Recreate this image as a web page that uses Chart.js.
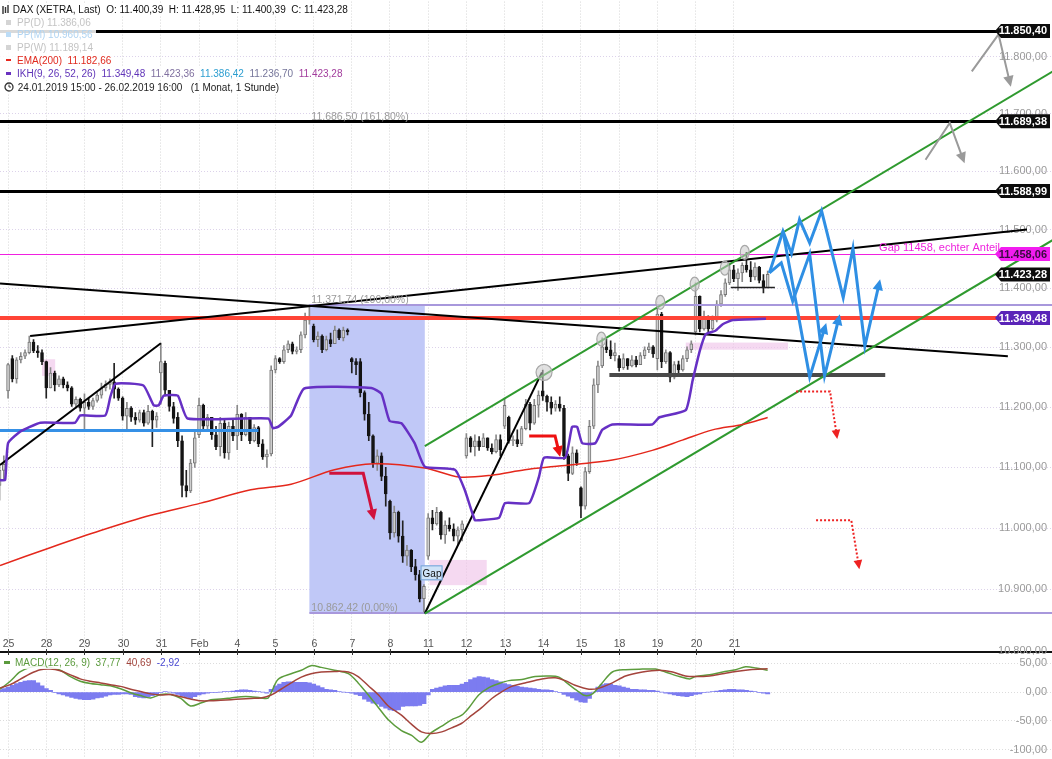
<!DOCTYPE html>
<html>
<head>
<meta charset="utf-8">
<script src="https://cdn.jsdelivr.net/npm/chart.js@4.4.1/dist/chart.umd.min.js"></script>
<style>
body { margin: 0; background: #fff; font-family: "Liberation Sans", Arial, sans-serif; }
#wrap { position: relative; width: 1052px; height: 759px; overflow: hidden; }
canvas { position: absolute; left: 0; }
.lg { position: absolute; left: 0; font-size: 10px; line-height: 13px; height: 13px; white-space: nowrap;
      background: rgba(255,255,255,0.85); padding: 0 3px 0 2px; }
.lg i { display: inline-block; width: 5px; height: 5px; margin: 0 6px 0 4px; vertical-align: 1px; }
.ml { position: absolute; left: 0; top: 656px; font-size: 10px; line-height: 13px; white-space: nowrap;
      background: rgba(255,255,255,0.85); padding: 0 3px 0 2px; }
</style>
</head>
<body>
<div id="wrap">
  <canvas id="main" width="1052" height="655" style="top:0"></canvas>
  <canvas id="macd" width="1052" height="104" style="top:655px"></canvas>

  <div class="lg" style="top:3px">
    <svg width="7" height="9" style="vertical-align:-1px;margin:0 1px 0 0"><path d="M1 1v8M3.5 2v6M6 0v8" stroke="#333" stroke-width="1.4"/></svg>
    <span style="color:#111">DAX (XETRA, Last)&nbsp; O: 11.400,39&nbsp; H: 11.428,95&nbsp; L: 11.400,39&nbsp; C: 11.423,28</span>
  </div>
  <div class="lg" style="top:16px;width:92px"><i style="background:#d4d4d4"></i><span style="color:#c4c4c4">PP(D) 11.386,06</span></div>
  <div class="lg" style="top:28px"><i style="background:#bcdcf6"></i><span style="color:#b0d4f2">PP(M) 10.960,56</span></div>
  <div class="lg" style="top:41px"><i style="background:#d4d4d4"></i><span style="color:#c4c4c4">PP(W) 11.189,14</span></div>
  <div class="lg" style="top:54px"><i style="background:#e8281e;height:2px;vertical-align:3px"></i><span style="color:#e02a1e">EMA(200)&nbsp; 11.182,66</span></div>
  <div class="lg" style="top:67px"><i style="background:#6a32c0;height:3px;vertical-align:2px"></i><span style="color:#6034b8">IKH(9, 26, 52, 26)&nbsp; 11.349,48</span>&nbsp;
    <span style="color:#7f6f9f">11.423,36</span>&nbsp; <span style="color:#2c9ed0">11.386,42</span>&nbsp;
    <span style="color:#75759a">11.236,70</span>&nbsp; <span style="color:#a23c9c">11.423,28</span></div>
  <div class="lg" style="top:81px">
    <svg width="10" height="10" style="vertical-align:-1px;margin:0 1px 0 2px"><circle cx="5" cy="5" r="4" fill="none" stroke="#333" stroke-width="1.3"/><path d="M5 2.5V5h2" stroke="#333" fill="none"/></svg>
    <span style="color:#222">24.01.2019 15:00 - 26.02.2019 16:00&nbsp;&nbsp; (1 Monat, 1 Stunde)</span></div>

  <div class="ml"><i style="display:inline-block;width:6px;height:3px;background:#5a9a3c;vertical-align:2px;margin:0 5px 0 2px"></i><span style="color:#5a9a3c">MACD(12, 26, 9)&nbsp; 37,77</span>&nbsp; <span style="color:#a0443c">40,69</span>&nbsp; <span style="color:#4848d0">-2,92</span></div>
</div>

<script>
// ---------- data ----------
const dayLabels = ["25", "28", "29", "30", "31", "Feb", "4", "5", "6", "7", "8", "11", "12", "13", "14", "15", "18", "19", "20", "21"];
const barsPerDay = 9;      // hourly bars per trading day
const firstBar = -2;       // 24.01. 16:00 -> bar -2, 25.01. 09:00 -> bar 0

// hourly candles [open, high, low, close]
const ohlc = [
  [11070,11105,11046,11095],[11095,11119,11080,11105],
  [11227,11273,11215,11271],[11281,11286,11242,11247],[11247,11283,11240,11279],[11279,11291,11274,11285],[11285,11296,11281,11291],[11291,11319,11289,11309],[11309,11313,11291,11294],[11294,11303,11283,11291],[11291,11296,11271,11276],
  [11276,11277,11215,11232],[11232,11266,11232,11257],[11257,11260,11227,11237],[11237,11252,11234,11247],[11247,11250,11232,11237],[11237,11242,11227,11232],[11232,11234,11201,11205],[11205,11217,11198,11213],[11213,11215,11193,11198],
  [11198,11222,11162,11208],[11208,11215,11196,11201],[11201,11215,11196,11211],[11211,11224,11208,11220],[11220,11240,11215,11232],[11232,11244,11227,11238],[11238,11247,11230,11242],[11242,11273,11215,11230],[11230,11232,11211,11215],
  [11215,11217,11178,11185],[11185,11208,11162,11198],[11198,11201,11176,11183],[11183,11191,11171,11178],[11178,11195,11175,11191],[11191,11195,11168,11173],[11173,11203,11171,11193],[11193,11195,11134,11178],[11178,11191,11166,11185],
  [11257,11307,11205,11276],[11273,11277,11220,11228],[11228,11228,11193,11201],[11201,11208,11173,11181],[11183,11191,11134,11144],[11144,11152,11051,11070],[11070,11095,11051,11061],[11061,11113,11058,11107],[11107,11162,11100,11149],
  [11154,11215,11149,11203],[11203,11205,11162,11168],[11168,11188,11162,11183],[11183,11183,11146,11154],[11154,11168,11129,11134],[11134,11183,11119,11173],[11173,11178,11115,11124],[11124,11175,11113,11168],[11168,11178,11144,11152],
  [11152,11203,11129,11188],[11188,11189,11144,11154],[11154,11191,11152,11183],[11183,11183,11139,11144],[11144,11171,11142,11166],[11166,11168,11134,11139],[11139,11146,11113,11117],[11117,11129,11100,11122],[11122,11269,11119,11262],
  [11262,11286,11257,11281],[11281,11283,11273,11276],[11276,11303,11273,11296],[11296,11311,11291,11306],[11306,11309,11289,11293],[11293,11301,11289,11296],[11296,11326,11291,11321],[11321,11358,11316,11346],[11346,11371.74,11339,11351],
  [11336,11339,11309,11313],[11313,11326,11301,11319],[11319,11321,11291,11296],[11296,11319,11294,11313],[11313,11324,11301,11306],[11306,11336,11306,11329],[11329,11331,11313,11316],[11316,11334,11311,11329],[11329,11331,11321,11326],
  [11281,11283,11257,11276],[11276,11281,11254,11271],[11276,11281,11217,11224],[11224,11227,11178,11188],[11188,11208,11144,11152],[11152,11154,11100,11107],[11107,11129,11095,11119],[11119,11124,11078,11085],[11085,11100,11036,11056],
  [11044,11046,10982,10992],[10992,11036,10985,11026],[11026,11028,10977,10987],[10987,11012,10944,10954],[10954,10972,10939,10964],[10964,10965,10929,10937],[10937,10949,10915,10924],[10924,10931,10880,10885],[10885,10908,10862.42,10905],
  [10954,11024,10949,11017],[11017,11029,10997,11007],[11007,11034,11005,11026],[11026,11028,10982,10989],[10989,11012,10975,11005],[11005,11017,10995,10999],[10999,11007,10979,10987],[10987,11002,10972,10997],[10997,11012,10979,11007],
  [11119,11156,11115,11149],[11149,11151,11125,11134],[11134,11154,11119,11144],[11144,11151,11128,11134],[11134,11156,11134,11149],[11149,11149,11128,11132],[11132,11139,11122,11126],[11126,11154,11124,11146],[11146,11154,11119,11129],
  [11168,11215,11164,11203],[11183,11185,11140,11144],[11144,11152,11136,11146],[11146,11162,11134,11139],[11139,11168,11136,11164],[11164,11213,11162,11205],[11205,11208,11162,11173],[11173,11213,11171,11203],[11203,11227,11183,11220],
  [11227,11262,11211,11218],[11218,11220,11193,11208],[11208,11217,11188,11198],[11198,11211,11193,11205],[11205,11217,11193,11198],[11198,11203,11113,11119],[11119,11122,11078,11090],[11090,11134,11088,11124],[11124,11129,11103,11107],
  [11066,11068,11017,11036],[11036,11100,11031,11093],[11093,11178,11090,11168],[11168,11247,11164,11237],[11237,11277,11224,11269],[11269,11316,11266,11301],[11301,11314,11291,11296],[11296,11311,11281,11286],[11286,11307,11277,11291],
  [11281,11286,11260,11266],[11266,11289,11263,11281],[11281,11281,11263,11269],[11269,11286,11267,11279],[11279,11285,11267,11271],[11271,11291,11271,11286],[11286,11301,11281,11296],[11296,11307,11291,11301],[11301,11303,11283,11289],
  [11281,11371,11262,11356],[11356,11359,11266,11276],[11276,11296,11273,11291],[11291,11293,11242,11250],[11250,11276,11247,11271],[11271,11277,11257,11262],[11262,11286,11260,11281],[11281,11301,11276,11296],[11296,11311,11291,11306],
  [11326,11409,11321,11386],[11386,11387,11326,11331],[11331,11361,11329,11351],[11351,11353,11326,11331],[11331,11353,11329,11346],[11346,11379,11343,11373],[11373,11396,11369,11389],[11389,11416,11386,11409],[11409,11441,11406,11431],
  [11431,11439,11411,11416],[11416,11433,11396,11426],[11426,11443,11411,11439],[11439,11461,11427,11431],[11431,11445,11411,11419],[11419,11443,11414,11436],[11436,11437,11409,11413],[11413,11423,11392,11400.39],[11400.39,11428.95,11400.39,11423.28]
];

// IKH line and EMA(200): [bar, price]
const ikhLine = [[-1.9,11079],[-0.7,11079],[0,11140],[2.8,11159],[4.5,11165],[7.6,11174],[15.8,11174],[17.0,11186],[22.9,11186],[24.1,11217],[25.3,11239],
  [31.9,11236],[34.3,11203],[35.5,11203],[36.7,11219],[40.0,11219],[42.3,11181],[61.3,11181],[62.4,11165],[63.6,11167],[66.7,11186],[69.8,11231],
  [85.6,11232],[88.0,11222],[89.9,11177],[92.7,11173],[95.8,11140],[98.2,11101],[105.3,11096],[107.6,11063],[110.0,11013],[110.9,11013],[115.7,11017],
  [117.1,11041],[122.8,11041],[125.1,11084],[126.3,11116],[131.3,11116],[132.9,11167],[134.1,11167],[135.3,11140],[138.4,11140],[140.0,11162],[142.4,11171],
  [151.8,11171],[153.5,11183],[159.7,11195],[161.3,11244],[163.0,11294],[164.4,11322],[166.7,11328],[168.4,11339],[170.8,11346],[178.6,11348]];
const emaLine = [[-1.9,10939],[9.9,10968],[21.8,10996],[33.6,11021],[45.4,11041],[57.2,11063],[66.7,11072],[76.9,11096],[86.3,11106],[98.2,11099],
  [106.2,11084],[114.0,11087],[121.8,11096],[129.8,11102],[142.4,11112],[151.8,11128],[158.9,11145],[166.0,11162],[173.1,11171],[179.0,11182.66]];

// MACD(12,26,9)
const macdHist = [
  4,6,
  9,12,15,17,19,20,20,16,11,  6,3,-1,-3,-5,-7,-9,-11,-12,  -13,-13,-12,-10,-9,-7,-5,-4,-4,
  -3,-3,-4,-8,-9,-10,-8,-6,-3,  -1,1,0,-2,-4,-7,-9,-11,-8,  -5,-3,-2,-1,-1,0,1,1,2,
  3,4,4,3,2,1,0,-2,5,  11,14,17,18,18,17,17,17,16,  14,11,8,5,4,3,1,0,-1,
  -2,-4,-6,-12,-16,-19,-21,-25,-28,  -31,-32,-31,-25,-24,-24,-24,-23,-20,  -5,5,7,9,11,12,12,12,14,
  17,22,25,27,26,25,22,20,18,  15,13,12,10,9,8,7,6,5,  4,4,3,1,-1,-4,-7,-10,-14,
  -17,-18,-11,0,9,13,15,14,12,  11,9,7,5,5,4,4,3,3,  2,0,-2,-3,-5,-6,-7,-8,-6,
  -4,-3,-1,0,1,2,3,4,5,  5,4,4,3,2,1,-1,-2,-2.92
];
const macdLine = [[-1.9,5],[0.5,19],[2.8,35],[5.2,43],[7.6,46],[9.9,43],[12.3,38],[14.7,27],[17.0,19],[19.4,15],[21.8,13],[24.1,11],[26.5,6],[28.9,-1],
  [31.2,-6],[33.6,-10],[36.0,-4],[38.3,-4],[40.7,-11],[43.0,-24],[45.4,-19],[47.8,-13],[50.1,-12],[52.5,-10],[54.9,-8],[57.2,-8],[59.6,-10],[61.3,-10],
  [63.6,22],[66.7,32],[69.1,38],[71.4,46],[73.8,43],[76.9,38],[80.2,32],[82.5,16],[84.9,-5],[87.3,-27],[89.6,-48],[92.7,-67],[95.1,-75],[97.4,-87],
  [99.8,-70],[102.2,-59],[104.5,-48],[106.9,-40],[108.6,-27],[110.9,-5],[113.3,8],[115.7,15],[118.0,20],[121.1,22],[124.2,27],[127.5,28],[129.8,26],
  [132.2,13],[134.6,0],[136.0,-6],[137.7,-3],[140.0,16],[142.4,35],[145.5,39],[149.5,40],[152.6,40],[154.9,35],[158.2,27],[160.6,23],[162.0,27],
  [165.3,30],[168.4,35],[171.5,39],[173.8,44],[176.2,42],[179.0,37.77]];
const signalLine = [[-1.9,7],[0.5,13],[2.8,22],[5.2,32],[7.6,39],[9.9,40],[12.3,37],[14.7,30],[17.0,23],[19.4,19],[21.8,16],[24.1,13],[26.5,10],[28.9,5],
  [31.2,1],[33.6,-3],[36.0,-5],[38.3,-4],[40.7,-8],[43.0,-12],[45.4,-15],[47.8,-15],[50.1,-14],[52.5,-13],[54.9,-12],[57.2,-11],[59.6,-10],[62.0,-5],
  [64.3,5],[66.7,16],[69.1,26],[71.4,32],[73.8,35],[76.9,36],[80.2,35],[82.5,27],[84.9,11],[87.3,-5],[89.6,-24],[92.7,-40],[95.1,-56],[97.4,-69],
  [99.8,-72],[102.2,-69],[104.5,-62],[106.9,-54],[109.3,-40],[111.6,-27],[114.0,-11],[116.4,1],[118.7,10],[121.8,16],[125.8,23],[128.9,25],[131.3,20],
  [133.6,12],[136.9,5],[139.3,7],[142.4,16],[145.5,28],[149.5,35],[153.5,38],[156.6,35],[159.6,28],[162.0,27],[165.3,28],[168.4,32],[171.5,36],
  [174.8,39],[179.0,40.69]];

// axis ticks
const priceTicks = [10800, 10900, 11000, 11100, 11200, 11300, 11400, 11500, 11600, 11700, 11800];
const macdTicks = [-100, -50, 0, 50];

// drawn levels (prices where the lines sit) and the values their tags show
const blackLevels = [11845, 11687, 11566];
const blackLevelTags = ["11.850,40", "11.689,38", "11.588,99"];
const lastClose = 11423.28;
const gapLevel = 11458.06;
const redLevel = 11349.48;
const fibHigh = 11371.74, fibLow = 10862.42, fibExt = 11686.50;
const fibStart = 71, fibEnd = 98.2;              // bars
const blueLevel = [11162, -2, 59];               // [price, fromBar, toBar]
const supportLevel = [11253, 141.7, 206.7];
const shortLevel = [11402, 170.3, 180.7];

// trend lines [bar1, price1, bar2, price2]
const blackTrends = [[5.2, 11319, 240.1, 11500], [-1.9, 11408, 235.6, 11285], [-1.9, 11104, 36, 11307], [98.2, 10861, 125.8, 11258]];
const greenTrends = [[98.2, 11135, 246.9, 11777], [98.2, 10861, 246.9, 11485]];

// shaded boxes [bar1, bar2, priceTop, priceBottom]
const pinkBoxes = [[8.0, 11.1, 11280, 11252], [99.3, 112.8, 10948, 10907], [159.7, 183.8, 11308, 11296]];
// marked highs [bar, price]
const markedHighs = [[126.3, 11258], [139.8, 11314], [153.7, 11376], [161.8, 11407], [168.9, 11434], [173.6, 11461]];

// arrows, as [bar, price] polylines
const redArrows = [[[75.7, 11090], [83.7, 11090], [86.3, 11013]], [[122.8, 11152], [128.9, 11152], [130.1, 11117]]];
const dottedArrows = [[[185.7, 11226], [193.7, 11226], [195.4, 11147]], [[190.4, 11013], [198.7, 11013], [200.6, 10933]]];
const blueArrows = [
  [[179.4, 11426], [182.6, 11497], [184.6, 11459], [186.5, 11517], [188.9, 11477], [191.7, 11532], [196.8, 11384], [199.1, 11468], [201.9, 11302], [205.5, 11415]],
  [[182.6, 11497], [188.9, 11250], [192.8, 11341]],
  [[179.4, 11426], [182.2, 11443], [184.9, 11378], [188.9, 11458], [192.4, 11252], [196.0, 11356]]
];
const grayArrows = [[[216.2, 11620], [221.9, 11684], [225.4, 11614]], [[227.1, 11774], [233.4, 11839], [236.3, 11747]]];
const gapLabelAt = [97.2, 10927];

// ---------- helpers ----------
const NARROW = '"Liberation Sans Narrow", "Liberation Sans", Arial, sans-serif';
const fmt = v => v.toLocaleString('de-DE', { minimumFractionDigits: 2, maximumFractionDigits: 2 });
const xMin = -1.9, xMax = 246;

function pt(chart, b, p) {
  return [chart.scales.x.getPixelForValue(b), chart.scales.y.getPixelForValue(p)];
}
function head(ctx, a, b, size, color) {
  const ang = Math.atan2(b[1] - a[1], b[0] - a[0]);
  ctx.beginPath();
  ctx.moveTo(b[0], b[1]);
  ctx.lineTo(b[0] - size * Math.cos(ang - 0.45), b[1] - size * Math.sin(ang - 0.45));
  ctx.lineTo(b[0] - size * Math.cos(ang + 0.45), b[1] - size * Math.sin(ang + 0.45));
  ctx.closePath();
  ctx.fillStyle = color;
  ctx.fill();
}
function path(chart, pts, color, width, dash, headSize) {
  const ctx = chart.ctx;
  const p = pts.map(q => pt(chart, q[0], q[1]));
  ctx.save();
  ctx.strokeStyle = color;
  ctx.lineWidth = width;
  ctx.lineJoin = 'miter';
  ctx.setLineDash(dash || []);
  ctx.beginPath();
  p.forEach((q, i) => {
    let x = q[0], y = q[1];
    if (headSize && i === p.length - 1) {     // stop the shaft under the arrow head
      const a = p[i - 1];
      const ang = Math.atan2(y - a[1], x - a[0]);
      x -= Math.cos(ang) * headSize * 0.7;
      y -= Math.sin(ang) * headSize * 0.7;
    }
    i ? ctx.lineTo(x, y) : ctx.moveTo(x, y);
  });
  ctx.stroke();
  ctx.setLineDash([]);
  if (headSize) head(ctx, p[p.length - 2], p[p.length - 1], headSize, color);
  ctx.restore();
}
function hline(chart, price, x1, x2, color, width) {
  const ctx = chart.ctx;
  const y = Math.round(chart.scales.y.getPixelForValue(price)) + (width % 2 ? 0.5 : 0);
  ctx.strokeStyle = color;
  ctx.lineWidth = width;
  ctx.beginPath();
  ctx.moveTo(x1, y);
  ctx.lineTo(x2, y);
  ctx.stroke();
}
function tag(ctx, right, y, text, bg, fg) {
  const h = 14, w = 49, left = right - w;
  ctx.beginPath();
  ctx.moveTo(left - 6, y);
  ctx.lineTo(left, y - h / 2);
  ctx.lineTo(right, y - h / 2);
  ctx.lineTo(right, y + h / 2);
  ctx.lineTo(left, y + h / 2);
  ctx.closePath();
  ctx.fillStyle = bg;
  ctx.fill();
  ctx.fillStyle = fg;
  ctx.font = 'bold 11px ' + NARROW;
  ctx.textAlign = 'right';
  ctx.textBaseline = 'middle';
  ctx.fillText(text, right - 3, y + 0.5);
}

// ---------- main chart drawings ----------
const drawings = {
  id: 'drawings',
  beforeDatasetsDraw(chart) {
    const ctx = chart.ctx;
    ctx.save();
    const a = pt(chart, fibStart, fibHigh), b = pt(chart, fibEnd, fibLow);
    ctx.fillStyle = '#c0c8f7';
    ctx.fillRect(a[0], a[1], b[0] - a[0], b[1] - a[1]);
    ctx.fillStyle = 'rgba(240,196,234,0.65)';
    pinkBoxes.forEach(r => {
      const p = pt(chart, r[0], r[2]), q = pt(chart, r[1], r[3]);
      ctx.fillRect(p[0], p[1], q[0] - p[0], q[1] - p[1]);
    });
    ctx.restore();
  },
  afterDatasetDraw(chart, args) {
    if (args.index !== 1) return;          // right after the candle bodies
    const { ctx, chartArea: area } = chart;
    const tagLeft = area.right - 50;
    ctx.save();
    ctx.beginPath();
    ctx.rect(area.left, area.top, area.width, area.height);
    ctx.clip();
    const xs = b => chart.scales.x.getPixelForValue(b);

    hline(chart, gapLevel, area.left, tagLeft, '#f020e0', 1);
    hline(chart, fibHigh, xs(fibStart), area.right, '#a898dc', 2);
    hline(chart, fibLow, xs(fibStart), area.right, '#a898dc', 2);
    hline(chart, redLevel, area.left, tagLeft, '#ff4436', 4);
    blackLevels.forEach(p => hline(chart, p, area.left, tagLeft, '#000', 3));
    hline(chart, blueLevel[0], xs(blueLevel[1]), xs(blueLevel[2]), '#3590e6', 3);
    hline(chart, supportLevel[0], xs(supportLevel[1]), xs(supportLevel[2]), '#4a4a4a', 4);
    hline(chart, shortLevel[0], xs(shortLevel[1]), xs(shortLevel[2]), '#222', 1.5);

    blackTrends.forEach(t => path(chart, [[t[0], t[1]], [t[2], t[3]]], '#000', 2));
    greenTrends.forEach(t => path(chart, [[t[0], t[1]], [t[2], t[3]]], '#2f9a2f', 2));
    ctx.restore();
  },
  afterDatasetsDraw(chart) {
    const { ctx, chartArea: area } = chart;
    ctx.save();
    // marked highs
    markedHighs.forEach((h, i) => {
      const p = pt(chart, h[0], h[1]);
      ctx.beginPath();
      ctx.ellipse(p[0], p[1], i === 0 ? 8 : 4.5, i === 0 ? 8 : 7, 0, 0, Math.PI * 2);
      ctx.fillStyle = 'rgba(200,200,200,0.55)';
      ctx.fill();
      ctx.strokeStyle = '#a8a8a8';
      ctx.lineWidth = 1.2;
      ctx.stroke();
    });
    redArrows.forEach((r, i) => path(chart, r, i ? '#ee1111' : '#d0123c', 3, null, 12));
    dottedArrows.forEach(r => path(chart, r, '#ee2222', 2, [2, 2], 10));
    blueArrows.forEach(r => path(chart, r, '#2f8fe4', 3, null, 12));
    grayArrows.forEach(r => path(chart, r, '#9a9a9a', 2, null, 12));

    // fibonacci texts
    ctx.font = '10.5px ' + NARROW;
    ctx.fillStyle = '#9a9a9a';
    ctx.textAlign = 'left';
    ctx.textBaseline = 'bottom';
    const fx = chart.scales.x.getPixelForValue(fibStart) + 2;
    ctx.fillText(fmt(fibExt) + ' (161,80%)', fx, chart.scales.y.getPixelForValue(fibExt) + 1);
    ctx.fillText(fmt(fibHigh) + ' (100,00%)', fx, chart.scales.y.getPixelForValue(fibHigh) + 1);
    ctx.fillText(fmt(fibLow) + ' (0,00%)', fx, chart.scales.y.getPixelForValue(fibLow) + 1);

    // gap label
    const g = pt(chart, gapLabelAt[0], gapLabelAt[1]);
    ctx.fillStyle = '#cfe3f8';
    ctx.strokeStyle = '#6f9fd6';
    ctx.lineWidth = 1;
    ctx.fillRect(g[0], g[1] - 7.5, 22, 15);
    ctx.strokeRect(g[0] + 0.5, g[1] - 7, 21, 14);
    ctx.fillStyle = '#111';
    ctx.font = '10px "Liberation Sans", Arial';
    ctx.textBaseline = 'middle';
    ctx.fillText('Gap', g[0] + 2, g[1] + 1);

    // gap text
    ctx.fillStyle = '#ee22dd';
    ctx.font = '11px ' + NARROW;
    ctx.textAlign = 'right';
    ctx.textBaseline = 'bottom';
    ctx.fillText('Gap 11458, echter Anteil', area.right - 52, chart.scales.y.getPixelForValue(gapLevel) - 1);
    ctx.restore();
  },
  afterDraw(chart) {
    const { ctx, chartArea: area, scales: { x, y } } = chart;
    ctx.save();
    // date labels inside the plot, above the axis line
    ctx.font = '10.5px ' + NARROW;
    ctx.fillStyle = '#555';
    ctx.textAlign = 'center';
    ctx.textBaseline = 'middle';
    ctx.strokeStyle = '#333';
    ctx.lineWidth = 1;
    dayLabels.forEach((t, k) => {
      const px = Math.round(x.getPixelForValue(k * barsPerDay)) + 0.5;
      ctx.fillText(t, px, area.bottom - 8);
      ctx.beginPath();
      ctx.moveTo(px, area.bottom - 3);
      ctx.lineTo(px, area.bottom + 3);
      ctx.stroke();
    });
    // price tags
    const right = chart.width - 2;
    blackLevels.forEach((p, i) => tag(ctx, right, y.getPixelForValue(p), blackLevelTags[i], '#0c0c0c', '#fff'));
    tag(ctx, right, y.getPixelForValue(gapLevel), fmt(gapLevel), '#f21cf0', '#3a0a40');
    tag(ctx, right, y.getPixelForValue(lastClose), fmt(lastClose), '#0c0c0c', '#fff');
    tag(ctx, right, y.getPixelForValue(redLevel), fmt(redLevel), '#5a24b8', '#fff');
    ctx.restore();
  }
};

const dayTicks = s => { s.ticks = dayLabels.map((_, k) => ({ value: k * barsPerDay })); };

new Chart(document.getElementById('main'), {
  type: 'bar',
  data: {
    datasets: [
      {
        label: 'wicks',
        data: ohlc.map((r, i) => ({ x: firstBar + i, y: [r[2], r[1]] })),
        backgroundColor: ohlc.map(r => r[3] >= r[0] ? '#8a8a8a' : '#222'),
        barThickness: 1, grouped: false, order: 4
      },
      {
        label: 'bodies',
        data: ohlc.map((r, i) => ({ x: firstBar + i, y: [Math.min(r[0], r[3]), Math.max(r[0], r[3])] })),
        backgroundColor: ohlc.map(r => r[3] >= r[0] ? '#cfcfcf' : '#141414'),
        borderColor: ohlc.map(r => r[3] >= r[0] ? '#777' : '#141414'),
        borderWidth: 1, borderSkipped: false, minBarLength: 1,
        barThickness: 3, grouped: false, order: 3
      },
      {
        type: 'line', label: 'EMA(200)',
        data: emaLine.map(p => ({ x: p[0], y: p[1] })),
        borderColor: '#e4281c', borderWidth: 1.5, pointRadius: 0, tension: 0.3, order: 2
      },
      {
        type: 'line', label: 'IKH',
        data: ikhLine.map(p => ({ x: p[0], y: p[1] })),
        borderColor: '#6630c4', borderWidth: 2.5, pointRadius: 0, tension: 0.15, order: 1
      }
    ]
  },
  options: {
    responsive: false, animation: false, events: [],
    layout: { autoPadding: false, padding: { left: 0, right: 0, top: 0, bottom: 3 } },
    plugins: { legend: { display: false }, tooltip: { enabled: false } },
    scales: {
      x: {
        type: 'linear', min: xMin, max: xMax, offset: false,
        afterBuildTicks: dayTicks,
        ticks: { display: false },
        grid: { color: '#d6d6d6', drawTicks: false, offset: false },
        border: { display: true, color: '#111', width: 2, dash: [1, 2] }
      },
      y: {
        type: 'logarithmic', position: 'right', min: 10799, max: 11896.8,
        afterBuildTicks: s => { s.ticks = priceTicks.map(v => ({ value: v })); },
        ticks: { mirror: true, padding: -5, color: '#9a9a9a', font: { family: NARROW, size: 11 }, callback: v => fmt(v) },
        grid: { color: '#dcd2ea', tickLength: 4 },
        border: { display: true, color: '#aaa', dash: [1, 2] }
      }
    }
  },
  plugins: [drawings]
});

new Chart(document.getElementById('macd'), {
  type: 'bar',
  data: {
    datasets: [
      {
        type: 'line', label: 'MACD',
        data: macdLine.map(p => ({ x: p[0], y: p[1] })),
        borderColor: '#5c9c3c', borderWidth: 1.5, pointRadius: 0, tension: 0.3, order: 2
      },
      {
        type: 'line', label: 'Signal',
        data: signalLine.map(p => ({ x: p[0], y: p[1] })),
        borderColor: '#a4443c', borderWidth: 1.5, pointRadius: 0, tension: 0.3, order: 1
      },
      {
        label: 'Hist',
        data: macdHist.map((v, i) => ({ x: firstBar + i, y: v })),
        backgroundColor: '#7c7cf0', borderColor: '#6464dc', borderWidth: 0,
        barPercentage: 1, categoryPercentage: 1, grouped: false, order: 3
      }
    ]
  },
  options: {
    responsive: false, animation: false, events: [],
    layout: { autoPadding: false, padding: 0 },
    plugins: { legend: { display: false }, tooltip: { enabled: false } },
    scales: {
      x: {
        type: 'linear', min: xMin, max: xMax, offset: false,
        afterBuildTicks: dayTicks,
        ticks: { display: false },
        grid: { color: '#d6d6d6', drawTicks: false, offset: false },
        border: { display: false, dash: [1, 2] }
      },
      y: {
        position: 'right', min: -113.3, max: 61.7,
        afterBuildTicks: s => { s.ticks = macdTicks.map(v => ({ value: v })); },
        ticks: { mirror: true, padding: -5, color: '#9a9a9a', font: { family: NARROW, size: 11 }, callback: v => fmt(v) },
        grid: { color: '#dcdcdc', tickLength: 4 },
        border: { display: true, color: '#aaa', dash: [1, 2] }
      }
    }
  }
});
</script>
</body>
</html>
